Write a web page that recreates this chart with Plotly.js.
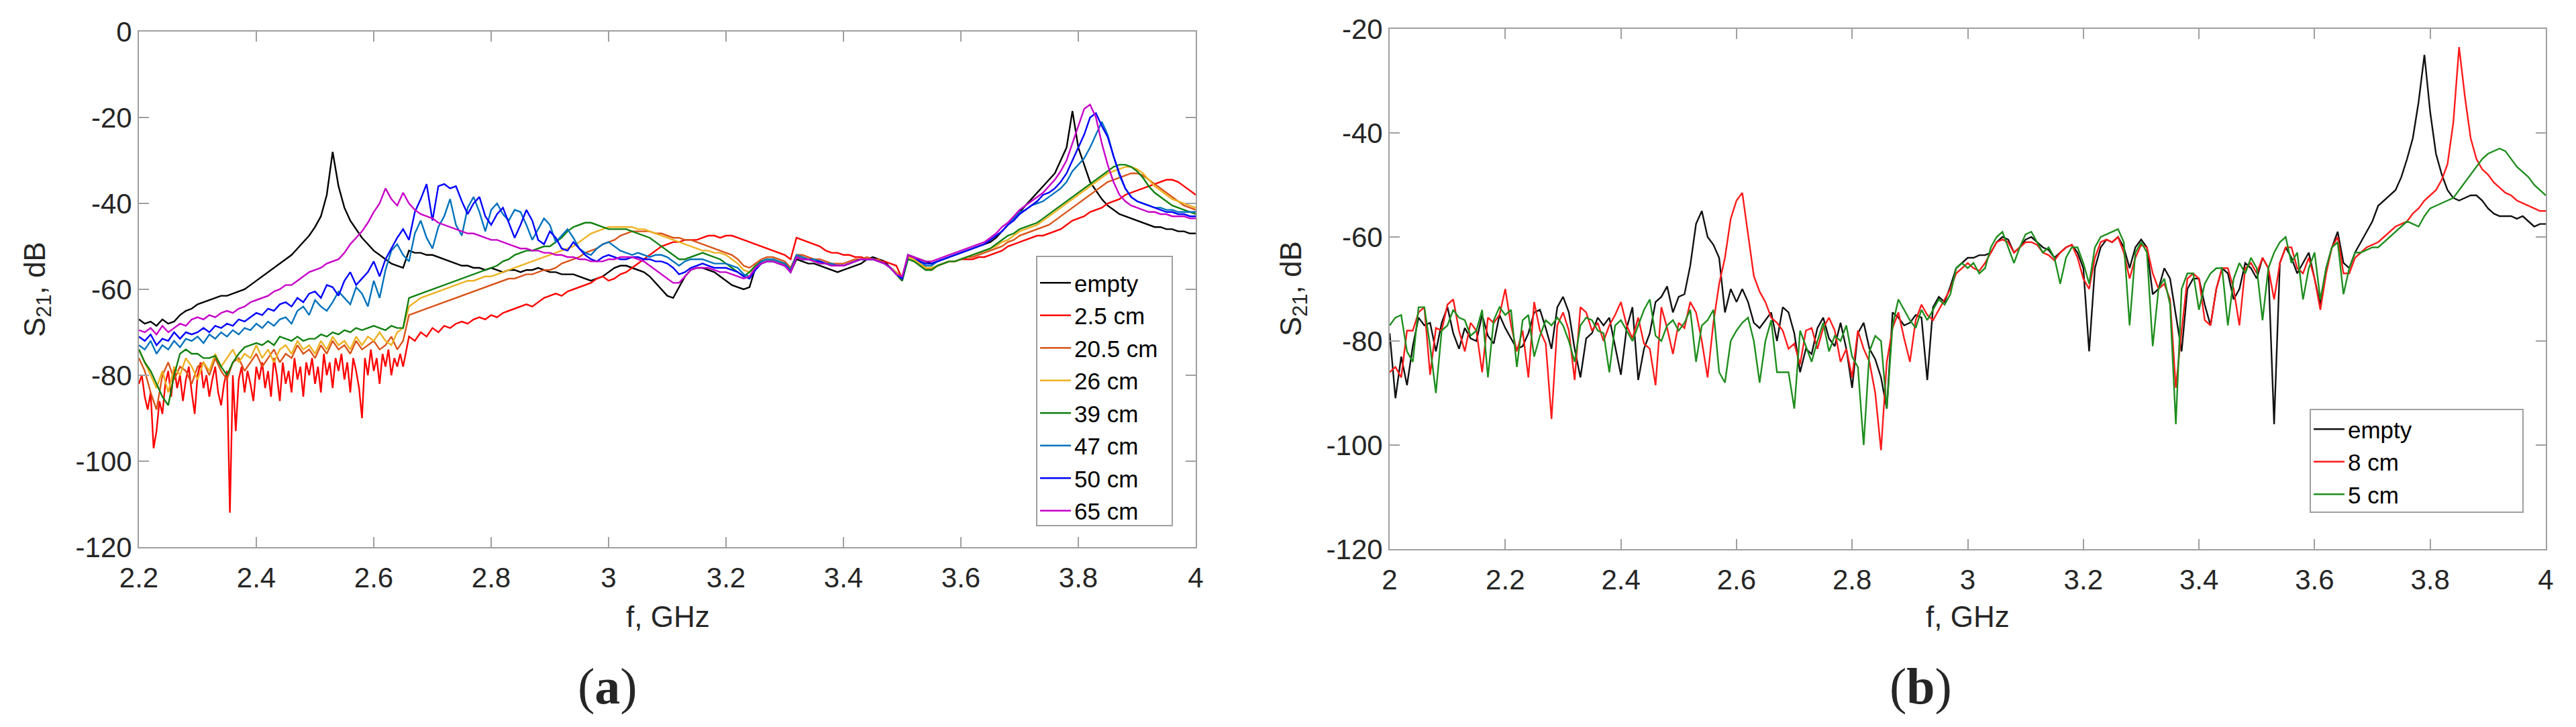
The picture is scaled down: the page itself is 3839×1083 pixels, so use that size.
<!DOCTYPE html>
<html>
<head>
<meta charset="utf-8">
<script src="https://cdn.plot.ly/plotly-3.0.1.min.js"></script>
<style>
  html, body { margin: 0; padding: 0; background: #fff; }
  #chart { width: 3839px; height: 1083px; }
</style>
</head>
<body>
<div id="chart"></div>
<script>
// S21 transmission spectra, panel (a) and panel (b)

// ---------- panel (a): 2.2 - 4.0 GHz, 0.01 GHz grid ----------
const fStartA = 2.2;
const fStepA = 0.01;

const emptyA = [
  -67, -68, -67.5, -68.5, -67, -68, -67.5, -66, -65, -64.5,
  -63.5, -63, -62.5, -62, -61.5, -61.5, -61, -60.5, -60, -59,
  -58, -57, -56, -55, -54, -53, -52, -50.5, -49, -47.5,
  -45.5, -43, -38, -28, -36, -41, -44, -46, -48, -49.5,
  -51, -52, -53, -54, -54.5, -55, -51, -51.5, -51.5, -52,
  -52, -52.5, -53, -53.5, -54, -54.5, -54.5, -55, -55, -55.5,
  -55, -55.5, -56, -55.5, -55.5, -56, -55.5, -55.5, -55, -55.5,
  -56, -56, -56.5, -56.5, -56.5, -57, -57.5, -58, -57.5, -57,
  -56, -55, -54.5, -54.5, -55, -55.5, -56, -57, -58.5, -60,
  -61.5, -62, -59.5, -57, -55.5, -55, -55, -55.5, -56, -57,
  -58, -59, -59.5, -60, -59.5, -55, -54, -53.5, -53.5, -54,
  -54.5, -56, -53, -53.5, -54, -54, -54.5, -55, -55.5, -56,
  -55.5, -55, -54.5, -54, -53, -52.5, -53, -53.5, -55, -56.5,
  -58, -52, -52.5, -53, -53.5, -54, -53.5, -53, -52.5, -52,
  -51.5, -51, -50.5, -50, -49.5, -49, -48, -46.5, -45, -43.5,
  -42, -40.5, -39, -37.5, -36, -34.5, -33, -30, -27, -18.5,
  -27, -31, -35, -37, -39, -40.5, -41.5, -42.5, -43, -43.5,
  -44, -44.5, -45, -45.5, -45.5, -46, -46, -46.5, -46.5, -47,
  -47
];

// 2.5 cm: dense noisy part (0.005 GHz) up to 2.65 GHz, then 0.01 GHz
const fStartA_fine = 2.2;
const fStepA_fine = 0.005;
const cm2_5_fine = [
  -82, -80, -85, -88, -84, -97, -93, -86, -89, -82,
  -79, -85, -78, -83, -80, -86, -81, -78, -84, -89,
  -80, -77, -83, -80, -85, -81, -78, -84, -87, -82,
  -79, -112, -80, -93, -81, -78, -84, -79, -82, -86,
  -78, -81, -77, -83, -79, -85, -76, -80, -86, -77,
  -82, -79, -84, -76, -81, -78, -85, -77, -80, -76,
  -82, -78, -84, -75, -80, -77, -83, -76, -79, -75,
  -81, -77, -84, -76, -79, -83, -90, -76, -80, -74,
  -79, -76, -82, -75, -78, -74, -80, -76, -78, -75,
  -78
];
const fStartA_rest = 2.65;
const cm2_5_rest = [
  -78,
  -71, -72, -70, -71,
  -69, -70, -68.5, -69, -68, -67.5, -68, -67, -66.5, -67,
  -66, -66.5, -65.5, -65, -64.5, -64, -63.5, -64, -63, -62,
  -61.5, -61, -61.5, -60.5, -60, -59.5, -59, -58.5, -57.5, -57,
  -58, -57.5, -56.5, -56, -55, -54, -53, -52, -51, -50,
  -49.5, -49, -49, -48.5, -48.5, -48.5, -48, -47.5, -47.5, -48,
  -47.5, -47.5, -48, -48.5, -49, -49.5, -50, -50.5, -51, -51.5,
  -52, -53, -48, -48.5, -49, -49.5, -50, -51, -51.5, -51.5,
  -52, -52, -52.5, -52.5, -53, -53, -53.5, -53.5, -54, -54.5,
  -57.5, -52, -53, -54, -55, -55.5, -54.5, -54, -53.5, -53.5,
  -53, -53, -53, -52.5, -52.5, -52, -51.5, -51, -50, -49.5,
  -49, -48.5, -48, -47.5, -47.5, -47, -46.5, -46, -45, -44,
  -43.5, -43, -42, -41.5, -41, -40, -39.5, -39, -38, -37.5,
  -37, -36.5, -36, -35.5, -35, -34.5, -34.5, -35, -36, -37,
  -38
];

const cm20_5 = [
  -76, -79, -84, -88, -80, -77, -81, -78, -79, -82,
  -78, -77, -80, -76, -79, -81, -77, -76, -79, -77,
  -75, -78, -76, -74, -77, -75, -76, -73, -75, -74,
  -76, -73, -75, -72, -74, -73, -75, -72, -74, -73,
  -72, -74, -73, -71, -74, -72, -66, -65.5, -65, -64.5,
  -64, -63.5, -63, -62.5, -62, -61.5, -61, -60.5, -60, -59.5,
  -59, -58.5, -58, -57.5, -57.5, -57, -56.5, -56.5, -56, -55.5,
  -55.5, -55, -54, -53.5, -53, -52.5, -51.5, -51, -50.5, -49.5,
  -49, -48.5, -47.5, -47, -46.5, -46.5, -46.5, -46.5, -47, -47,
  -47.5, -48, -48, -48.5, -48.5, -49, -49.5, -50, -50.5, -51,
  -51.5, -52, -53, -54.5, -55, -54, -53, -52.5, -52.5, -53,
  -53.5, -55, -52, -52, -52.5, -53, -53, -53.5, -54, -54,
  -54, -53.5, -53, -53, -52.5, -53, -53, -54, -55, -56,
  -57, -52.5, -53, -54, -55, -55.5, -54.5, -54, -53.5, -53.5,
  -53, -52.5, -52.5, -52, -51.5, -51, -50.5, -50, -49, -48.5,
  -47.5, -47, -46.5, -46, -45.5, -45, -44, -43, -42, -41,
  -40, -39, -38, -37, -36, -35, -34.5, -34, -33.5, -33,
  -33, -33.5, -34.5, -35.5, -36.5, -37.5, -38.5, -39.5, -40.5, -41,
  -41.5
];

const cm26 = [
  -74, -77, -80, -83, -79, -84, -78, -80, -76, -78,
  -81, -77, -79, -75, -78, -76, -74, -77, -75, -76,
  -73, -76, -74, -77, -74, -73, -75, -72, -74, -73,
  -75, -72, -74, -71, -73, -72, -74, -71, -73, -71,
  -72, -70, -72, -73, -70, -69, -64, -63, -62, -61.5,
  -61, -60.5, -60, -59.5, -59, -58.5, -58, -58, -57.5, -57,
  -57, -56.5, -56, -55.5, -55, -54.5, -54, -53.5, -53, -52.5,
  -52, -51.5, -51, -50.5, -50, -49, -48, -47, -46.5, -46,
  -45.5, -45.5, -45.5, -45.5, -45.5, -46, -46, -46.5, -47, -47.5,
  -48, -48.5, -49, -49.5, -50, -50.5, -51, -51, -51.5, -51.5,
  -52, -53, -54, -55.5, -56, -55, -54, -53.5, -53.5, -54,
  -54, -56, -52.5, -52.5, -53, -53, -53.5, -54, -54, -54.5,
  -54.5, -54, -53.5, -53, -53, -53, -53.5, -54, -55, -56,
  -57.5, -52.5, -53, -54, -55, -55, -54.5, -54, -53.5, -53.5,
  -53, -52.5, -52, -51.5, -51, -50.5, -50, -49, -48.5, -47.5,
  -46.5, -46, -45.5, -45, -44, -43, -42, -41, -40, -39,
  -38, -37, -36, -35, -34, -33, -32.5, -32, -31.5, -31.5,
  -32, -33, -34.5, -36, -37, -38, -39, -39.5, -40, -40.5,
  -41
];

const cm39 = [
  -74, -77, -79, -82, -85, -87, -80, -75, -74, -75,
  -75, -76, -76, -75.5, -78, -80, -77, -75, -73.5, -73,
  -72.5, -73, -72, -73, -71, -71.5, -72, -71, -72, -71.5,
  -71.5, -70.5, -71, -70, -70.5, -69.5, -70, -69, -69.5, -69,
  -68.5, -69, -69.5, -68.5, -69, -69, -62, -61.5, -61, -60.5,
  -60, -59.5, -59, -58.5, -58, -57.5, -57, -56.5, -56, -55.5,
  -55, -54.5, -53.5, -53, -52, -51.5, -51, -51, -50.5, -50,
  -50, -49, -48, -46.5, -45.5, -45, -44.5, -44.5, -45, -45.5,
  -46, -46, -46, -46, -46.5, -47, -47.5, -48, -49, -50,
  -51, -52, -53, -53, -52.5, -52, -51.5, -52, -52.5, -53,
  -54, -55, -56, -57, -56, -54.5, -53.5, -53, -53, -53.5,
  -54, -55.5, -52.5, -53, -53, -53.5, -54, -54, -54.5, -54.5,
  -54.5, -54, -53.5, -53, -53, -53, -53.5, -54, -55, -56.5,
  -58, -53, -53.5, -54.5, -55.5, -55.5, -54.5, -54, -53.5, -53.5,
  -53, -52.5, -52, -51.5, -51, -50.5, -49.5, -48.5, -47.5, -47,
  -46, -45.5, -45, -44.5, -43.5, -42.5, -41.5, -40.5, -39.5, -38.5,
  -37.5, -36.5, -35.5, -34.5, -33.5, -32.5, -31.5, -31, -31, -31.5,
  -32.5, -34, -36, -37.5, -38.5, -39.5, -40.5, -41, -41.5, -42,
  -42.5
];

const cm47 = [
  -73, -74, -72, -75, -73, -74, -72, -73.5, -71.5, -72,
  -71, -72.5, -70.5, -71.5, -70, -71, -69.5, -70.5, -69, -69.5,
  -68, -69, -67.5, -68.5, -67, -66.5, -68, -65, -64, -66,
  -62.5, -64, -65, -63, -60.5, -62, -63.5, -59.5, -61, -64,
  -58, -62, -55.5, -51, -49.5, -52, -53.5, -47, -44, -48,
  -50.5, -45.5, -43, -39, -45, -47.5, -41, -38.5, -42, -46.5,
  -41.5, -40, -42.5, -44, -41.5, -42, -45, -48.5, -46, -43.5,
  -45, -49, -47.5, -46, -48, -50.5, -51.5, -52, -50.5, -49.5,
  -49, -50, -51, -51.5, -52, -51.5, -52, -52.5, -52, -52,
  -52.5, -53.5, -54.5, -53.5, -53, -53, -53, -53.5, -54, -54,
  -54, -54.5, -55, -56.5, -57, -55, -53.5, -53, -53, -53.5,
  -54, -55.5, -52, -52.5, -53, -53, -53.5, -54, -54, -54.5,
  -54.5, -54, -53.5, -53, -53, -53, -53.5, -54, -55, -56.5,
  -57.5, -52, -52.5, -53.5, -54.5, -54.5, -53.5, -53, -52.5, -52,
  -51.5, -51, -50.5, -50, -49.5, -48.5, -47.5, -46.5, -45, -43.5,
  -42, -41.5, -40.5, -40, -39.5, -38.5, -37.5, -36.5, -35, -32.5,
  -31, -29.5, -27, -24, -21, -24, -29, -33.5, -36.5, -38.5,
  -39.5, -40, -40.5, -41, -41, -41.5, -41.5, -42, -42, -42,
  -42
];

const cm50 = [
  -71, -72, -70.5, -73, -71.5, -72, -70, -71.5, -70, -70.5,
  -70, -69, -70, -68.5, -69, -68, -68.5, -67, -67.5, -66.5,
  -65.5, -66, -64.5, -65, -63.5, -63, -64, -62, -63, -61,
  -60.5, -62, -59, -59.5, -61.5, -58, -56, -59, -57.5, -56,
  -53.5, -57, -53, -50.5, -48, -46, -48.5, -42, -39, -35.5,
  -44, -36, -35.5, -36.5, -36, -39.5, -42.5, -40, -38.5, -43,
  -45, -42.5, -41, -44.5, -48, -45, -41.5, -44, -48.5, -49.5,
  -46.5, -48, -50.5, -51, -49, -50.5, -52, -53, -53.5, -52.5,
  -52, -52.5, -53, -53, -52.5, -52.5, -53, -53, -53.5, -53.5,
  -54, -55, -56.5, -56, -55, -54.5, -54, -54.5, -55, -55,
  -55, -55.5, -56, -57, -57.5, -55.5, -54, -53.5, -53.5, -54,
  -54.5, -56, -52.5, -53, -53, -53.5, -53.5, -54, -54.5, -54.5,
  -54.5, -54, -53.5, -53, -53, -53, -53.5, -54, -55, -56.5,
  -57.5, -52, -52.5, -53.5, -54, -54, -53.5, -53, -52.5, -52,
  -51.5, -51, -50.5, -50, -49.5, -48.5, -47.5, -46.5, -45, -44,
  -42.5, -41.5, -40.5, -39.5, -38, -37.5, -36.5, -35, -33, -30,
  -27, -24, -20, -19, -22, -24.5, -29, -33, -36.5, -38.5,
  -39.5, -40, -40.5, -41, -41.5, -42, -42, -42.5, -42.5, -43,
  -43
];

const cm65 = [
  -69.5, -70, -69, -70.5, -68.5, -70, -69, -68, -68.5, -67,
  -66.5, -67, -66, -66.5, -65.5, -65, -65.5, -64.5, -64, -63,
  -62.5, -62, -61.5, -60.5, -60, -59, -59, -58, -57, -56,
  -55.5, -55, -54, -53.5, -53, -51.5, -49.5, -48, -46.5, -44.5,
  -42, -40, -36.5, -39, -40.5, -37.5, -40, -41.5, -42.5, -43,
  -43.5, -44.5, -45, -45.5, -46, -46.5, -47, -47, -47.5, -48,
  -48.5, -48.5, -49, -49.5, -50, -50.5, -50.5, -51, -51, -51.5,
  -51.5, -52, -52, -52.5, -52.5, -53, -53, -53.5, -53.5, -53.5,
  -53, -53, -52.5, -52.5, -52.5, -53, -53.5, -54.5, -55.5, -56.5,
  -57.5, -58.5, -58.5, -57, -55.5, -55, -55, -55, -55.5, -56,
  -56, -56.5, -57, -57.5, -57, -55, -54, -53.5, -53.5, -54,
  -54.5, -56, -52.5, -53, -53, -53.5, -54, -54, -54.5, -54.5,
  -54.5, -54, -53.5, -53, -53, -53, -53.5, -54, -55, -56.5,
  -57, -52, -52.5, -53, -53.5, -53.5, -53, -52.5, -52, -51.5,
  -51, -50.5, -50, -49.5, -49, -48, -47, -45.5, -44.5, -43,
  -41.5, -40.5, -39.5, -38.5, -37.5, -36, -34.5, -32.5, -30, -26,
  -22, -18, -17, -20, -26, -31, -35, -38, -39.5, -40.5,
  -41, -41.5, -42, -42, -42.5, -42.5, -43, -43, -43, -43.5,
  -43.5
];

// ---------- panel (b): 2.0 - 4.0 GHz, 0.01 GHz grid ----------
const fStartB = 2.0;
const fStepB = 0.01;

const emptyB = [
  -78.5, -91, -83, -88.5, -81, -75.5, -77, -76.5, -82, -76.5,
  -73.5, -78.5, -81.5, -77.5, -79.5, -80, -75, -79, -80.5, -75,
  -77.5, -79.5, -81.5, -81, -78.5, -74.5, -74, -77.5, -81.5, -73.5,
  -71.5, -74.5, -81.5, -87, -79.5, -78.5, -75.5, -77, -75.5, -81,
  -86.5, -77.5, -73.5, -87.5, -81.5, -78.5, -72.5, -71.5, -69.5, -74.5,
  -71.5, -71, -65.5, -57.5, -55, -60, -61.5, -64, -74.5, -70,
  -72.5, -70, -72.5, -76.5, -77.5, -76, -74.5, -80, -73.5, -74.5,
  -78.5, -86, -81.5, -82.5, -77.5, -75.5, -79.5, -81, -76.5, -81.5,
  -89, -78.5, -76.5, -81.5, -83.5, -87, -93, -74.5, -75.5, -77,
  -76.5, -75, -75.5, -87.5, -73.5, -71.5, -72.5, -69.5, -66, -65,
  -64, -64, -63.5, -63.5, -63, -61, -60, -60.5, -63, -62,
  -60.5, -60, -61, -62, -62.5, -64, -63, -62, -61.5, -63,
  -66, -82, -66, -62, -60.5, -61, -60, -62, -66, -62,
  -60.5, -62, -71, -70, -66, -68, -75, -82, -70, -68,
  -68, -73, -77, -70, -66, -67, -72, -70, -65, -66,
  -68, -64, -66, -96, -65, -62, -64, -67, -65, -63,
  -68, -73, -66, -62, -59, -65, -66, -63, -61, -59,
  -57, -54, -53, -52, -51, -48.5, -45, -41, -34, -25,
  -36, -44, -48, -51, -52.5, -53, -52.5, -52, -52, -53,
  -54.5, -55.5, -56, -56, -56, -56.5, -56, -57, -58, -57.5,
  -57.5
];

const cm8 = [
  -86, -85, -87, -78, -78, -74.5, -73.5, -86.5, -77.5, -78,
  -73, -72, -78, -82, -76.5, -78, -86, -75.5, -76.5, -75,
  -70, -77, -82, -78, -87, -72.5, -78, -80.5, -95, -77,
  -74.5, -78, -87.5, -73.5, -74.5, -78, -76.5, -80, -77, -75,
  -72.5, -77, -79.5, -75.5, -80.5, -81.5, -88.5, -73.5, -77.5, -82.5,
  -76.5, -77.5, -72.5, -74.5, -80, -87, -76.5, -69, -64, -56.5,
  -53, -51.5, -59.5, -67.5, -70.5, -72.5, -75.5, -76.5, -78, -81.5,
  -80.5, -84.5, -78, -77.5, -81.5, -77.5, -75.5, -78, -84, -81.5,
  -87, -78, -81.5, -84, -90, -101, -84, -77.5, -74.5, -79.5,
  -84, -76, -73, -75, -76, -74, -72, -70, -67, -66,
  -65, -66, -66.5, -65, -63, -61, -60.5, -61, -63, -62,
  -61, -61, -61.5, -63, -63.5, -64.5, -63, -62, -61.5, -64,
  -68, -70, -64, -61, -60.5, -61, -60, -63, -68, -64,
  -61.5, -62, -67, -70, -69, -72, -89, -78, -68, -67,
  -68, -76, -77, -70, -66, -66, -70, -77, -66, -65,
  -67, -64, -66, -72, -65, -62, -62, -66, -67, -64,
  -68, -74, -67, -62, -60, -67, -67, -64, -63, -62,
  -61.5, -61, -60, -59, -58, -57.5, -57, -55.5, -54.5, -53,
  -52, -51, -49, -46, -38, -23.5, -33, -41, -45, -47,
  -48, -49.5, -50.5, -51.5, -52, -53, -53.5, -54, -54.5, -55,
  -55
];

const cm5 = [
  -77, -75.5, -75, -82, -84, -73.5, -73.5, -81, -90, -78,
  -77, -74, -75.5, -76, -79, -78, -74, -87, -76, -73.5,
  -75, -74, -85, -76, -75, -83, -79, -76, -77, -75.5,
  -77, -80, -84, -77, -75.5, -76, -78, -78.5, -86, -77,
  -76, -78, -80, -77, -74, -72, -79, -80, -77, -76,
  -78, -76.5, -74, -84, -77, -76, -74, -86, -88, -80,
  -78, -76.5, -75.5, -80, -88, -80, -76, -86, -86, -86,
  -93, -78, -81, -84, -80, -76.5, -82, -79, -80, -77,
  -83, -85, -100, -82, -79, -80, -93, -77, -72, -74,
  -76, -77.5, -74, -76, -74, -72, -73, -71, -66, -65,
  -66, -65, -67, -66, -62, -60, -59, -62, -65, -62,
  -59.5, -59, -61, -63, -62, -64, -69, -64, -62, -62,
  -65, -69, -62, -60, -59.5, -59, -58.5, -61, -77, -63,
  -61, -63, -81, -70, -68, -73, -96, -70, -67, -67,
  -74, -69, -67, -66, -66, -77, -68, -65, -67, -64,
  -66, -76, -66, -63, -61, -60, -65, -63, -72, -66,
  -63, -72, -66, -62, -61, -71, -66, -63, -63, -62.5,
  -62, -62, -61, -60, -59, -58, -57, -57.5, -58, -56,
  -54.5, -54, -53.5, -53, -52.5, -51, -49.5, -48, -46.5, -45,
  -44, -43.5, -43, -43.5, -45, -46.5, -47.5, -48.5, -50, -51,
  -52
];

// tick labels (MATLAB style, plain hyphen)
const xTicksA = [2.2, 2.4, 2.6, 2.8, 3, 3.2, 3.4, 3.6, 3.8, 4];
const xTickTextA = ["2.2", "2.4", "2.6", "2.8", "3", "3.2", "3.4", "3.6", "3.8", "4"];
const yTicksA = [0, -20, -40, -60, -80, -100, -120];
const yTickTextA = ["0", "-20", "-40", "-60", "-80", "-100", "-120"];
const xTicksB = [2, 2.2, 2.4, 2.6, 2.8, 3, 3.2, 3.4, 3.6, 3.8, 4];
const xTickTextB = ["2", "2.2", "2.4", "2.6", "2.8", "3", "3.2", "3.4", "3.6", "3.8", "4"];
const yTicksB = [-20, -40, -60, -80, -100, -120];
const yTickTextB = ["-20", "-40", "-60", "-80", "-100", "-120"];

const W = 3839, H = 1083;
const SANS = "Liberation Sans, Arial, Helvetica, sans-serif";
const AXC = "#9f9f9f";

function line(name, y, x0, dx, color, xa, ya, leg, extra) {
  return Object.assign({
    type: "scatter", mode: "lines", name: name,
    y: y, x0: x0, dx: dx,
    line: { color: color, width: 2.4 },
    xaxis: xa, yaxis: ya, legend: leg,
    hoverinfo: "skip"
  }, extra || {});
}

const traces = [
  line("empty", emptyA, fStartA, fStepA, "#000000", "x", "y", "legend"),
  line("2.5 cm", cm2_5_fine, fStartA_fine, fStepA_fine, "#FF0000", "x", "y", "legend", { legendgroup: "r25" }),
  line("2.5 cm", cm2_5_rest, fStartA_rest, fStepA, "#FF0000", "x", "y", "legend", { legendgroup: "r25", showlegend: false }),
  line("20.5 cm", cm20_5, fStartA, fStepA, "#D95319", "x", "y", "legend"),
  line("26 cm", cm26, fStartA, fStepA, "#EDB120", "x", "y", "legend"),
  line("39 cm", cm39, fStartA, fStepA, "#108010", "x", "y", "legend"),
  line("47 cm", cm47, fStartA, fStepA, "#0072BD", "x", "y", "legend"),
  line("50 cm", cm50, fStartA, fStepA, "#0000FF", "x", "y", "legend"),
  line("65 cm", cm65, fStartA, fStepA, "#C800C8", "x", "y", "legend"),

  line("empty", emptyB, fStartB, fStepB, "#111111", "x2", "y2", "legend2"),
  line("8 cm", cm8, fStartB, fStepB, "#FF1A1A", "x2", "y2", "legend2"),
  line("5 cm", cm5, fStartB, fStepB, "#1E8E1E", "x2", "y2", "legend2")
];

function axis(dom, range, tv, tt, anchor, isX) {
  const a = {
    domain: dom, range: range, anchor: anchor,
    tickvals: tv, ticktext: tt,
    ticks: "inside", ticklen: 15, tickwidth: 2, tickcolor: AXC,
    showline: true, linecolor: AXC, linewidth: 2, mirror: "ticks",
    showgrid: false, zeroline: false, fixedrange: true,
    tickfont: { family: SANS, size: 42, color: "#262626" }
  };
  if (isX) a.ticklabelstandoff = 8;
  return a;
}

const legendStyle = {
  bgcolor: "rgba(255,255,255,0)", borderwidth: 0,
  font: { family: SANS, size: 35, color: "#000000" },
  itemwidth: 46, xanchor: "left", yanchor: "top",
  xref: "paper", yref: "paper", tracegroupgap: 0
};

const ann = (text, x, y, size, family, angle) => ({
  text: text, x: x / W, y: 1 - y / H, xref: "paper", yref: "paper",
  xanchor: "center", yanchor: "middle", showarrow: false,
  textangle: angle || 0,
  font: { family: family, size: size, color: "#262626" }
});

const box = (x0, y0, x1, y1) => ({
  type: "rect", xref: "paper", yref: "paper",
  x0: x0 / W, x1: x1 / W, y0: 1 - y1 / H, y1: 1 - y0 / H,
  line: { color: AXC, width: 2 }, fillcolor: "rgba(0,0,0,0)", layer: "above"
});

const layout = {
  width: W, height: H,
  margin: { l: 0, r: 0, t: 0, b: 0 },
  paper_bgcolor: "#ffffff", plot_bgcolor: "#ffffff",
  font: { family: SANS },
  xaxis: axis([207 / W, 1782 / W], [2.2, 4], xTicksA, xTickTextA, "y", true),
  yaxis: axis([1 - 815 / H, 1 - 47 / H], [-120, 0], yTicksA, yTickTextA, "x", false),
  xaxis2: axis([2071 / W, 3794 / W], [2, 4], xTicksB, xTickTextB, "y2", true),
  yaxis2: axis([1 - 818 / H, 1 - 43 / H], [-120, -20], yTicksB, yTickTextB, "x2", false),
  legend: Object.assign({}, legendStyle, { x: 1545 / W, y: 1 - 392 / H }),
  legend2: Object.assign({}, legendStyle, { x: 3443 / W, y: 1 - 610 / H }),
  shapes: [
    box(1545, 382, 1747, 783),
    box(3443, 610, 3760, 763)
  ],
  annotations: [
    ann("S<sub>21</sub>, dB", 55, 431, 44, SANS, -90),
    ann("S<sub>21</sub>, dB", 1927, 430, 44, SANS, -90),
    ann("f, GHz", 995, 918, 44, SANS),
    ann("f, GHz", 2932, 918, 44, SANS),
    ann("(<b>a</b>)", 905, 1022, 76, "Liberation Serif, Times New Roman, serif"),
    ann("(<b>b</b>)", 2862, 1022, 76, "Liberation Serif, Times New Roman, serif")
  ]
};

Plotly.newPlot("chart", traces, layout, { displayModeBar: false, staticPlot: true });
</script>
</body>
</html>
